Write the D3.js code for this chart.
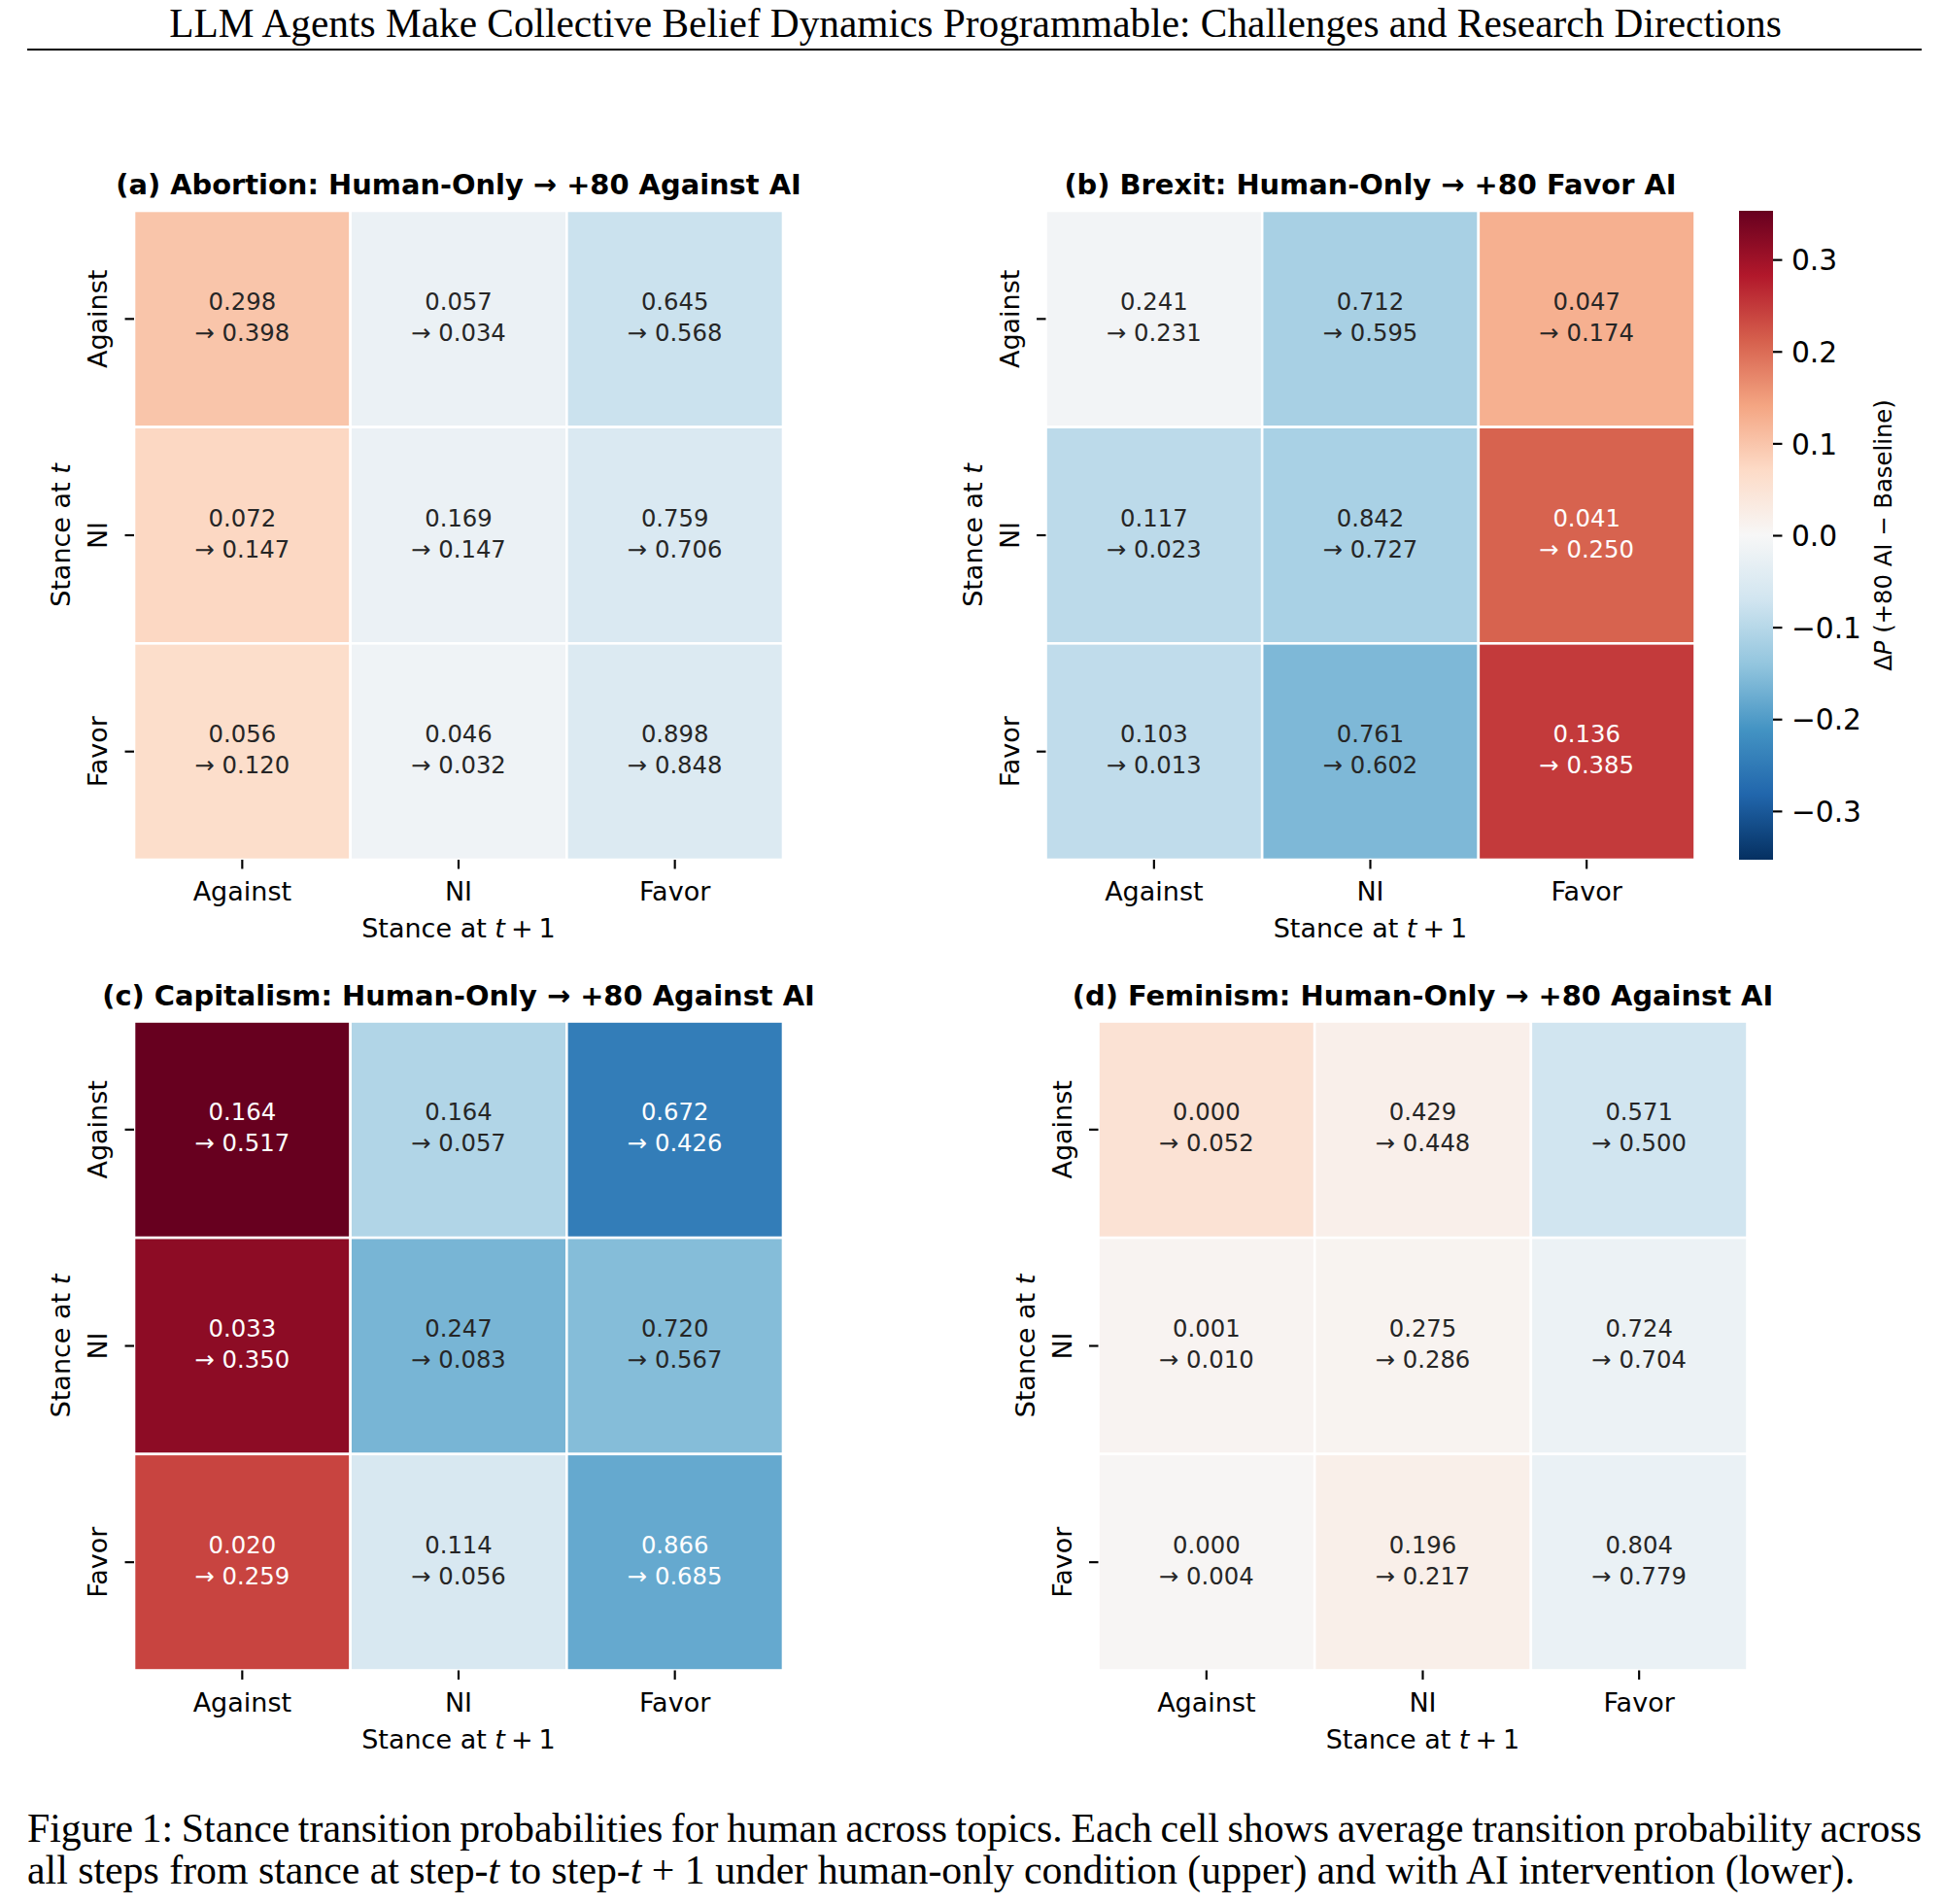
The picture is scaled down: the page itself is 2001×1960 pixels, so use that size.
<!DOCTYPE html>
<html><head><meta charset="utf-8">
<script src="https://cdn.jsdelivr.net/npm/d3@7"></script>
<style>body{margin:0;background:#fff}svg text{font-kerning:normal}</style>
</head><body>
<svg id="fig" width="2001" height="1960" xmlns="http://www.w3.org/2000/svg"></svg>
<script>
// ---------------- DATA ----------------
const stances = ["Against", "NI", "Favor"];
const panelTitles = [
  "(a) Abortion: Human-Only \u2192 +80 Against AI",
  "(b) Brexit: Human-Only \u2192 +80 Favor AI",
  "(c) Capitalism: Human-Only \u2192 +80 Against AI",
  "(d) Feminism: Human-Only \u2192 +80 Against AI"
];
// rows = stance at t, cols = stance at t+1
const abortionHuman   = [[0.298, 0.057, 0.645], [0.072, 0.169, 0.759], [0.056, 0.046, 0.898]];
const abortionAI      = [[0.398, 0.034, 0.568], [0.147, 0.147, 0.706], [0.120, 0.032, 0.848]];
const brexitHuman     = [[0.241, 0.712, 0.047], [0.117, 0.842, 0.041], [0.103, 0.761, 0.136]];
const brexitAI        = [[0.231, 0.595, 0.174], [0.023, 0.727, 0.250], [0.013, 0.602, 0.385]];
const capitalismHuman = [[0.164, 0.164, 0.672], [0.033, 0.247, 0.720], [0.020, 0.114, 0.866]];
const capitalismAI    = [[0.517, 0.057, 0.426], [0.350, 0.083, 0.567], [0.259, 0.056, 0.685]];
const feminismHuman   = [[0.000, 0.429, 0.571], [0.001, 0.275, 0.724], [0.000, 0.196, 0.804]];
const feminismAI      = [[0.052, 0.448, 0.500], [0.010, 0.286, 0.704], [0.004, 0.217, 0.779]];
const colorbarTicks = [0.3, 0.2, 0.1, 0.0, -0.1, -0.2, -0.3];
const headerText = "LLM Agents Make Collective Belief Dynamics Programmable: Challenges and Research Directions";

// ---------------- STYLE / LAYOUT ----------------
const rdbuR = ["#053061","#2166ac","#4393c3","#92c5de","#d1e5f0","#f7f7f7","#fddbc7","#f4a582","#d6604d","#b2182b","#67001f"];
const SANS = "DejaVu Sans";
const SERIF = "Liberation Serif";
const AX = 668; // heatmap axes size
const layout = [
  {left: 138,    top: 217},
  {left: 1076.5, top: 217},
  {left: 138,    top: 1051.5},
  {left: 1130.5, top: 1051.5}
];
const panels = [
  {human: abortionHuman, ai: abortionAI},
  {human: brexitHuman, ai: brexitAI},
  {human: capitalismHuman, ai: capitalismAI},
  {human: feminismHuman, ai: feminismAI}
];

const svg = d3.select("#fig");

// colour scale (RdBu_r, symmetric around 0)
const deltas = panels.flatMap(p => p.ai.flatMap((row, i) => row.map((v, j) => v - p.human[i][j])));
const vmax = d3.max(deltas, d => Math.abs(d));
const color = d3.scaleLinear()
  .domain(d3.range(11).map(i => -vmax + i * 2 * vmax / 10))
  .range(rdbuR)
  .interpolate(d3.interpolateRgb)
  .clamp(true);

function relLum(c) {
  const rgb = d3.rgb(c);
  const f = v => { v /= 255; return v <= 0.03928 ? v / 12.92 : Math.pow((v + 0.055) / 1.055, 2.4); };
  return 0.2126 * f(rgb.r) + 0.7152 * f(rgb.g) + 0.0722 * f(rgb.b);
}

// ---------------- HEADER ----------------
const header = svg.append("text")
  .attr("x", 1004).attr("y", 38)
  .attr("text-anchor", "middle")
  .attr("font-family", SERIF).attr("font-size", 40)
  .attr("fill", "#000")
  .text(headerText);
{
  const w = header.node().getComputedTextLength();
  header.attr("font-size", 40 * 1660 / w);
}
svg.append("line").attr("x1", 28).attr("x2", 1978).attr("y1", 51).attr("y2", 51)
  .attr("stroke", "#000").attr("stroke-width", 2);

// ---------------- PANELS ----------------
panels.forEach((p, k) => {
  const L = layout[k];
  const x = d3.scaleBand().domain(stances).range([L.left, L.left + AX]);
  const y = d3.scaleBand().domain(stances).range([L.top, L.top + AX]);
  const g = svg.append("g");

  const cells = [];
  stances.forEach((rs, i) => stances.forEach((cs, j) => {
    cells.push({row: rs, col: cs, h: p.human[i][j], a: p.ai[i][j], d: p.ai[i][j] - p.human[i][j]});
  }));

  g.selectAll("rect.cell").data(cells).join("rect")
    .attr("class", "cell")
    .attr("x", d => x(d.col)).attr("y", d => y(d.row))
    .attr("width", x.bandwidth()).attr("height", y.bandwidth())
    .attr("fill", d => color(d.d))
    .attr("stroke", "#fff").attr("stroke-width", 2.6);

  const ann = g.selectAll("text.ann").data(cells).join("text")
    .attr("class", "ann")
    .attr("text-anchor", "middle")
    .attr("font-family", SANS).attr("font-size", 24.3)
    .attr("fill", d => relLum(color(d.d)) > 0.408 ? "#262626" : "#ffffff");
  ann.append("tspan")
    .attr("x", d => x(d.col) + x.bandwidth() / 2)
    .attr("y", d => y(d.row) + y.bandwidth() / 2 - 9.5)
    .text(d => d.h.toFixed(3));
  ann.append("tspan")
    .attr("x", d => x(d.col) + x.bandwidth() / 2)
    .attr("y", d => y(d.row) + y.bandwidth() / 2 + 22.5)
    .text(d => "\u2192 " + d.a.toFixed(3));

  // x axis
  const xa = g.append("g").attr("transform", `translate(0,${L.top + AX})`)
    .call(d3.axisBottom(x).tickSize(9.45).tickPadding(0));
  xa.select(".domain").remove();
  xa.selectAll(".tick line").attr("stroke", "#000").attr("stroke-width", 2.16);
  xa.selectAll(".tick text").attr("y", 42).attr("dy", null)
    .attr("font-family", SANS).attr("font-size", 27).attr("fill", "#000");

  // y axis
  const ya = g.append("g").attr("transform", `translate(${L.left},0)`)
    .call(d3.axisLeft(y).tickSize(9.45).tickPadding(0));
  ya.select(".domain").remove();
  ya.selectAll(".tick line").attr("stroke", "#000").attr("stroke-width", 2.16);
  ya.selectAll(".tick text")
    .attr("x", 0).attr("y", 0).attr("dy", null)
    .attr("transform", "translate(-27.6,0) rotate(-90)")
    .attr("text-anchor", "middle")
    .attr("font-family", SANS).attr("font-size", 27).attr("fill", "#000");

  // axis labels
  const xl = g.append("text")
    .attr("x", L.left + AX / 2).attr("y", L.top + AX + 80)
    .attr("text-anchor", "middle")
    .attr("font-family", SANS).attr("font-size", 27).attr("fill", "#000");
  xl.append("tspan").text("Stance at ");
  xl.append("tspan").attr("font-style", "italic").text("t");
  xl.append("tspan").attr("dx", 6).text("+");
  xl.append("tspan").attr("dx", 6).text("1");

  const yl = g.append("text")
    .attr("transform", `translate(${L.left - 66},${L.top + AX / 2}) rotate(-90)`)
    .attr("text-anchor", "middle")
    .attr("font-family", SANS).attr("font-size", 27).attr("fill", "#000");
  yl.append("tspan").text("Stance at ");
  yl.append("tspan").attr("font-style", "italic").text("t");

  // title
  g.append("text")
    .attr("x", L.left + AX / 2).attr("y", L.top - 17)
    .attr("text-anchor", "middle")
    .attr("font-family", SANS).attr("font-weight", "bold").attr("font-size", 28.9)
    .attr("fill", "#000")
    .text(panelTitles[k]);
});

// ---------------- COLORBAR ----------------
const cb = {left: 1790, width: 35, top: 217, height: 668};
const cbScale = d3.scaleLinear().domain([-vmax, vmax]).range([cb.top + cb.height, cb.top]);
const defs = svg.append("defs");
const grad = defs.append("linearGradient").attr("id", "cbgrad")
  .attr("x1", 0).attr("y1", 1).attr("x2", 0).attr("y2", 0);
color.domain().forEach((v, i) => {
  grad.append("stop").attr("offset", i / 10).attr("stop-color", color(v));
});
svg.append("rect").attr("x", cb.left).attr("y", cb.top)
  .attr("width", cb.width).attr("height", cb.height)
  .attr("fill", "url(#cbgrad)");
const cba = svg.append("g").attr("transform", `translate(${cb.left + cb.width},0)`)
  .call(d3.axisRight(cbScale).tickValues(colorbarTicks).tickSize(9.45).tickPadding(9.45)
    .tickFormat(d => (d < 0 ? "\u2212" : "") + Math.abs(d).toFixed(1)));
cba.select(".domain").remove();
cba.selectAll(".tick line").attr("stroke", "#000").attr("stroke-width", 2.16);
cba.selectAll(".tick text").attr("font-family", SANS).attr("font-size", 29.7).attr("fill", "#000")
  .attr("dy", "0.36em");

const cbl = svg.append("text")
  .attr("transform", `translate(1947,${cb.top + cb.height / 2}) rotate(-90)`)
  .attr("text-anchor", "middle")
  .attr("font-family", SANS).attr("font-size", 24.3).attr("fill", "#000");
cbl.append("tspan").text("\u0394");
cbl.append("tspan").attr("font-style", "italic").text("P");
cbl.append("tspan").text(" (+80 AI \u2212 Baseline)");

// ---------------- CAPTION ----------------
const cap1 = svg.append("text").attr("x", 28).attr("y", 1896)
  .attr("font-family", SERIF).attr("font-size", 40).attr("fill", "#000")
  .text("Figure 1: Stance transition probabilities for human across topics. Each cell shows average transition probability across");
const cap2 = svg.append("text").attr("x", 28).attr("y", 1939)
  .attr("font-family", SERIF).attr("font-size", 40).attr("fill", "#000");
cap2.append("tspan").text("all steps from stance at step-");
cap2.append("tspan").attr("font-style", "italic").text("t");
cap2.append("tspan").text(" to step-");
cap2.append("tspan").attr("font-style", "italic").text("t");
cap2.append("tspan").text(" + 1 under human-only condition (upper) and with AI intervention (lower).");
{
  const w2 = cap2.node().getComputedTextLength();
  const fs = 40 * 1882 / w2;
  cap2.attr("font-size", fs);
  cap1.attr("font-size", fs);
  const w1 = cap1.node().getComputedTextLength();
  const nSp = (cap1.text().match(/ /g) || []).length;
  cap1.attr("word-spacing", (1950 - w1) / nSp);
}
</script>
</body></html>
